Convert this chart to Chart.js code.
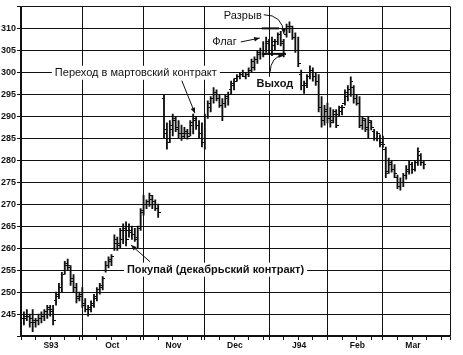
<!DOCTYPE html>
<html>
<head>
<meta charset="utf-8">
<script src="https://cdn.jsdelivr.net/npm/chart.js@4.4.1/dist/chart.umd.min.js"></script>
<style>
  html, body { margin: 0; padding: 0; background: #fff; }
</style>
</head>
<body>
<canvas id="myChart" width="463" height="355"></canvas>
<script>
// December contract (trading days from Sep 1, 1993)
const decStart = 0;
const decHigh  = [246,245.5,246,245,246,244,245,245.5,246,247,247,247,250,252,254.5,257,257.5,256,254,252,250,251,248.5,247,248,249.5,251,252,253.5,257,258,258.5,263,262.5,264.5,265.5,266,265.5,265,264.5,265,269,272,271,272.5,272,271,270];
const decLow   = [243,242.5,243.5,242,241,242,242.5,243,243.5,244,244.5,242.5,247,248.5,250,254,255,251.5,250,247.5,248,246.5,245.5,244.5,245.5,246.5,248,249.5,250.5,254.5,255.5,256,259.5,259.5,260,261,260.5,262.5,262,261.5,260,264,267.5,269,269.5,269,268.5,267];
const decOpen  = [245,244,244,244.5,244,243,243.5,244,244.5,245,246,246,248,249,251,255,256,255.5,253,251,249,249,247.5,246,246,247,248.5,250,251,255,256,257,260,261,261,262,264,264,264,263,262,265,268,270,270.5,271,270.5,269];
const decClose = [244,244.5,245,243,243.5,243.5,244,245,245.5,246.5,245.5,243.5,249.5,251,254,256.5,256,252.5,251,248.5,249.5,247,246,246.5,247.5,249,250.5,251.5,253,256,257.5,258,262,260.5,264,264.5,262,263.5,263,262.5,264.5,268.5,270,270.5,272,270,269,268];

// March contract
const marStart = 49;
const marHigh  = [295,288.5,289,290.5,290,289,288,287.5,287,289,290.5,290,289,288.5,290.5,293.5,294.5,296.5,296,295,294,295,295.5,298,298.5,299.5,300,300.5,300,301,303,303.5,305,305.5,307,308,307.5,308,307.5,309,309.3,307.5,311,311.5,310.5,309,308,300.5,298,299.5,301.5,301,300,299.5,294.5,292.5,293,292,291.5,291.5,292.3,292.5,296,297,299,297,295,294.5,290,289.5,290,289,287,286.5,285.8,285.5,283,280.5,280,279,276.6,276,277,278.8,280,279.5,280,282.8,281.5,280];
const marLow   = [285,282.5,284,285.5,286.5,285,284.5,285,284.8,285.5,286,287,285,283,282.5,289.5,291,293,293.5,292,289,292,292.5,295,296,298,298.5,299,298.5,299,300,300.5,302,303,303.5,304.5,304,303.8,305,306.3,306,303.5,308,309,307.5,304.5,301.3,296,295.2,296.5,298.5,298,297,291,287.5,288,288.5,287.5,288.5,287.4,290,290.3,292.5,293.5,294.5,293,292.5,287.4,287,286.5,285,286.9,284.5,284.4,283,282.9,276,277,277.3,276,273.5,273.2,274,275.7,276.8,277,277.5,278.8,278.8,278];
const marOpen  = [294,287,285,287,289,287.5,286,286,286,286,288,289,288,286,284,290,292,294,295,294,292.5,293,294,296,297,298.5,299,299.5,299,299.5,300.5,301,303,304,305,305,306.5,305,306,307,308.5,306.5,308.5,310,310,308,305,299.5,297,297,299,300.5,299,298,292,289,291,290,289,290.5,290.5,291,293,294.5,295,296.5,294,293,288,289,287,288.5,286.5,285,285,284,282.5,277.5,279,278,276,274,275,276.5,277.5,279,278,279.5,281,279.5];
const marClose = [286,284,288,289.5,287,286,285.5,286.5,285.5,288.5,289.5,288,286,284,290,293,294,295.5,294,292.5,290,294.5,295,297.5,298,299,299.5,300,299.5,300.5,302.5,303,304.5,305,304,307,305,307,307,308.5,307,304,310.5,310.5,308,305,302,297,297.5,299,300.5,299,298,292,289,291.5,289.5,288.5,291,288,292,292,295.5,296,298,294,293,288,289.5,287.5,289,287.5,285,286,283.5,283.5,277,279.5,278,277,274,275,276.5,278,279,278,279.5,282,279.5,279];

// axis labels
const monthStarts = [0, 21, 42, 63, 85, 105, 124, 147];
const monthNames  = ['S93', 'Oct', 'Nov', 'Dec', 'J94', 'Feb', 'Mar'];
const priceMin = 240, priceMax = 315;

function toBars(start, high, low) {
    return high.map((h, i) => ({ x: start + i, y: [low[i], h] }));
}
function toPoints(start, vals) {
    return vals.map((v, i) => ({ x: start + i, y: v }));
}

// little open/close ticks as point images
function tickImage(side) {
    const c = document.createElement('canvas');
    c.width = 5; c.height = 1;
    const g = c.getContext('2d');
    g.fillStyle = '#000';
    g.fillRect(side === 'left' ? 0 : 3, 0, 2, 1);
    return c;
}
const openTick = tickImage('left');
const closeTick = tickImage('right');

function barSet(data) {
    return { type: 'bar', data: data, backgroundColor: '#111', borderWidth: 0, barThickness: 1.2, grouped: false };
}
function tickSet(data, img) {
    return { type: 'scatter', data: data, pointStyle: img, pointRadius: 2, showLine: false };
}

// text + arrows, positioned in data units
const notes = {
    id: 'notes',
    afterDatasetsDraw(chart) {
        const { ctx, scales: { x, y } } = chart;
        const px = d => x.getPixelForValue(d);
        const py = p => y.getPixelForValue(p);
        ctx.save();
        ctx.strokeStyle = '#111';
        ctx.fillStyle = '#111';

        function head(x0, y0, x1, y1) {
            const a = Math.atan2(y1 - y0, x1 - x0);
            ctx.beginPath();
            ctx.moveTo(x1, y1);
            ctx.lineTo(x1 - 6 * Math.cos(a - 0.4), y1 - 6 * Math.sin(a - 0.4));
            ctx.lineTo(x1 - 6 * Math.cos(a + 0.4), y1 - 6 * Math.sin(a + 0.4));
            ctx.closePath();
            ctx.fill();
        }
        function arrow(d0, p0, d1, p1) {
            const x0 = px(d0), y0 = py(p0), x1 = px(d1), y1 = py(p1);
            ctx.lineWidth = 1;
            ctx.beginPath(); ctx.moveTo(x0, y0); ctx.lineTo(x1, y1); ctx.stroke();
            head(x0, y0, x1, y1);
        }
        function curve(d0, p0, dc, pc, d1, p1) {
            const x0 = px(d0), y0 = py(p0), xc = px(dc), yc = py(pc), x1 = px(d1), y1 = py(p1);
            ctx.lineWidth = 1;
            ctx.beginPath(); ctx.moveTo(x0, y0); ctx.quadraticCurveTo(xc, yc, x1, y1); ctx.stroke();
            head(xc, yc, x1, y1);
        }
        function label(text, d, p, font, align) {
            ctx.font = font;
            ctx.textAlign = align;
            ctx.textBaseline = 'middle';
            const w = ctx.measureText(text).width;
            const left = align === 'center' ? px(d) - w / 2 : px(d);
            ctx.fillStyle = '#fff';
            ctx.fillRect(left - 3, py(p) - 7, w + 6, 14);
            ctx.fillStyle = '#111';
            ctx.fillText(text, px(d), py(p));
        }
        function hline(d0, d1, p, w) {
            ctx.lineWidth = w;
            ctx.beginPath(); ctx.moveTo(px(d0), py(p)); ctx.lineTo(px(d1), py(p)); ctx.stroke();
        }

        const normal = '11px "Liberation Sans", Arial, sans-serif';
        const bold = 'bold 11px "Liberation Sans", Arial, sans-serif';

        // flag boundaries
        hline(82.5, 88.4, 310, 2);
        hline(82.5, 90.8, 304.2, 2);

        label('Разрыв', 76, 312.9, normal, 'center');
        curve(83.2, 313.1, 89.7, 313.1, 90.1, 308.7);

        label('Флаг', 69.7, 306.9, normal, 'center');
        arrow(75.3, 306.9, 81.8, 307.8);

        label('Выход', 87, 297.4, bold, 'center');
        curve(85.3, 299.9, 85.6, 303.7, 90.1, 303.9);

        label('Переход в мартовский контракт', 11.6, 299.9, normal, 'left');
        arrow(55.1, 298.1, 59.6, 290.7);

        label('Покупай (декабрьский контракт)', 36.3, 255.1, bold, 'left');
        arrow(44.2, 256.9, 37.7, 260.7);

        ctx.restore();
    }
};

const gridColor = '#111';

new Chart(document.getElementById('myChart').getContext('2d'), {
    type: 'bar',
    data: {
        datasets: [
            barSet(toBars(decStart, decHigh, decLow)),
            tickSet(toPoints(decStart, decOpen), openTick),
            tickSet(toPoints(decStart, decClose), closeTick),
            barSet(toBars(marStart, marHigh, marLow)),
            tickSet(toPoints(marStart, marOpen), openTick),
            tickSet(toPoints(marStart, marClose), closeTick)
        ]
    },
    options: {
        responsive: false,
        animation: false,
        events: [],
        layout: { padding: { top: 1, right: 13, left: 0, bottom: 0 } },
        plugins: { legend: { display: false }, tooltip: { enabled: false } },
        scales: {
            x: {
                type: 'linear',
                min: 0,
                max: 147,
                offset: false,
                grid: {
                    offset: false,
                    color: ctx => monthStarts.includes(ctx.tick && ctx.tick.value) ? gridColor : 'rgba(0,0,0,0)',
                    tickColor: '#111',
                    tickLength: 4,
                    lineWidth: 1
                },
                border: { color: '#111', width: 1.5 },
                afterBuildTicks: scale => {
                    const t = [];
                    for (let m = 0; m < monthStarts.length - 1; m++) {
                        for (let d = monthStarts[m]; d < monthStarts[m + 1]; d += 5) t.push({ value: d });
                    }
                    t.push({ value: 147 });
                    scale.ticks = t;
                },
                afterFit: scale => { scale.height = 19; },
                ticks: {
                    autoSkip: false,
                    maxRotation: 0,
                    minRotation: 0,
                    padding: 1,
                    labelOffset: 30,
                    color: '#111',
                    font: { family: '"Liberation Sans", Arial, sans-serif', size: 8.5, weight: 'bold' },
                    callback: v => {
                        const i = monthStarts.indexOf(v);
                        return i >= 0 && i < monthNames.length ? monthNames[i] : '';
                    }
                }
            },
            y: {
                min: priceMin,
                max: priceMax,
                grid: { color: gridColor, tickLength: 4, lineWidth: 1 },
                border: { color: '#111', width: 1.5 },
                afterFit: scale => { scale.width = 21; },
                ticks: {
                    stepSize: 5,
                    padding: 1,
                    color: '#111',
                    font: { family: '"Liberation Sans", Arial, sans-serif', size: 9, weight: 'bold' },
                    callback: v => (v === priceMin || v === priceMax) ? '' : v
                }
            }
        }
    },
    plugins: [notes]
});
</script>
</body>
</html>
